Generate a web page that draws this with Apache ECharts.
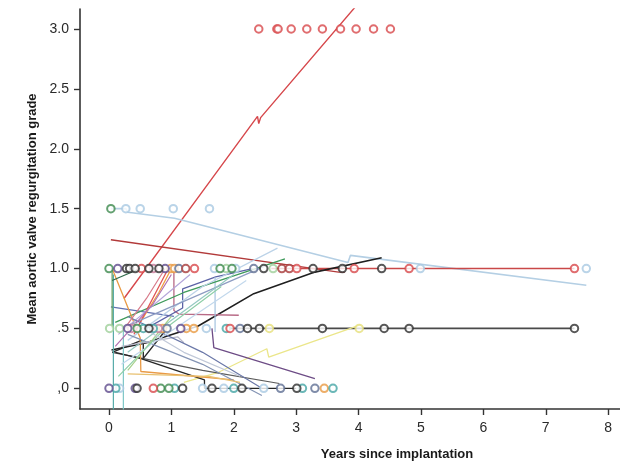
<!DOCTYPE html>
<html>
<head>
<meta charset="utf-8">
<script src="https://cdn.jsdelivr.net/npm/echarts@6/dist/echarts.min.js"></script>
<style>
html,body{margin:0;padding:0;background:#fff;}
#chart{width:620px;height:462px;}
</style>
</head>
<body>
<div id="chart"></div>
<script>
// tick values and their labels
var xTicks = [0, 1, 2, 3, 4, 5, 6, 7, 8];
var yTicks = [0, 0.5, 1, 1.5, 2, 2.5, 3];
var yTickLabels = [',0', '.5', '1.0', '1.5', '2.0', '2.5', '3.0'];

// patient trend lines [years, grade]
var redRise = [[0.24,0.75],[1.62,1.73],[2.38,2.27],[2.40,2.21],[2.43,2.26],[3.94,3.18]];
var blueDecline = [[0.03,1.5],[0.27,1.5],[0.3,1.47],[1.05,1.42],[3.83,1.05],[3.87,1.11],[7.65,0.86]];
var darkRedDecline = [[0.03,1.24],[3.68,0.97],[3.78,0.97]];
var redFlat = [[2.6,1.0],[7.46,1.0]];
var blackFlat = [[1.94,0.5],[7.46,0.5]];
var blackCurve = [[0.04,0.32],[0.6,0.38],[1.43,0.52],[2.32,0.79],[3.3,0.97],[4.37,1.09]];
var yellowRise = [[1.2,0.05],[1.74,0.13],[2.53,0.33],[2.56,0.26],[4.03,0.53]];
var purpleDrop = [[1.65,0.5],[1.68,0.34],[3.30,0.08]];
var mauveStep = [[1.04,0.98],[1.04,0.65],[1.12,0.62],[2.08,0.61]];
var blueSlope = [[0.03,0.68],[1.04,0.6]];
var slateStep = [[0.6,0.5],[1.18,0.67],[1.18,0.83],[1.71,0.93],[2.3,1.0]];
var paleVertical = [[1.7,0.93],[1.7,0.47]];
var greenRise = [[0.1,0.55],[1.2,0.8],[2.82,1.08]];
var greyDecline = [[0.05,0.3],[1.5,0.15],[2.73,0.04]];
var blackStep = [[0.1,0.3],[0.5,0.25],[1.53,0.07],[1.53,0.0],[3.0,0.0]];
var blackShort = [[0.05,0.3],[0.52,0.4],[0.55,0.38],[0.55,0.25],[0.9,0.48]];
var orangeDrop = [[0.05,1.0],[0.5,0.42],[0.51,0.14],[2.0,0.07]];
var orangeRise = [[0.5,0.55],[0.8,0.8],[1.0,1.0]];
var redShort = [[0.4,0.45],[0.8,0.85],[0.95,1.0]];
var tealVertical = [[0.07,0.95],[0.07,-0.2]];
var cyanVertical = [[0.23,0.5],[0.23,-0.2]];
var greenVertical = [[0.05,1.0],[0.05,0.5]];
var paleRise = [[0.3,0.4],[1.5,0.85],[2.7,1.17]];
var slateRise = [[0.2,0.5],[2.5,1.02]];
var lavenderRise = [[0.15,0.45],[1.3,0.95]];
var tealRise = [[0.3,0.3],[2.0,0.95]];
var steelDecline = [[0.3,0.45],[1.5,0.2],[2.45,-0.06]];
var silverShort = [[0.2,0.35],[1.1,0.43],[1.2,0.38]];
var darkGreenShort = [[0.05,0.9],[0.5,1.0]];
var limeRise = [[0.3,0.15],[1.0,0.6]];
var indigoDecline = [[0.3,0.6],[1.5,0.3],[2.45,0.0]];
var goldFlat = [[0.3,0.12],[1.6,0.1],[2.1,0.05]];
var plumRise = [[0.1,0.35],[0.7,0.7],[1.0,0.95]];
var skyRise = [[0.2,0.2],[1.2,0.55],[2.2,0.9]];
var mintRise = [[0.15,0.1],[0.9,0.5],[1.8,0.85]];
var roseRise = [[0.25,0.5],[0.6,0.75],[0.9,1.0]];
var fogDecline = [[0.4,0.55],[1.2,0.3],[2.1,0.1]];

// observed grades (hollow circles)
var redPts = [[2.40,3],[2.69,3],[2.71,3],[2.92,3],[3.17,3],[3.42,3],[3.71,3],[3.96,3],[4.24,3],[4.51,3],
  [3.01,1],[3.93,1],[4.81,1],[7.46,1],[0.52,1],[1.37,1],[1.94,0.5],[0.71,0]];
var blackPts = [[0.28,1],[0.33,1],[0.42,1],[0.64,1],[0.80,1],[2.48,1],[3.27,1],[3.74,1],[4.37,1],
  [0.64,0.5],[2.22,0.5],[2.41,0.5],[3.42,0.5],[4.41,0.5],[4.81,0.5],[7.46,0.5],
  [0.45,0],[1.18,0],[1.65,0],[2.13,0],[3.01,0]];
var paleBluePts = [[0.27,1.5],[0.5,1.5],[1.03,1.5],[1.61,1.5],[7.65,1],[4.99,1],[1.69,1],[2.03,1],
  [1.56,0.5],[0.17,0],[1.5,0],[1.84,0],[2.48,0]];
var greenPts = [[0.03,1.5],[0,1],[1.78,1],[1.97,1],[0.45,0.5],[0.83,0],[0.96,0]];
var tealPts = [[0.11,0],[1.05,0],[2.0,0],[3.1,0],[3.59,0],[0.55,0.5],[0.71,0.5],[1.88,0.5]];
var purplePts = [[0,0],[0.42,0],[0.9,1],[0.3,0.5],[1.15,0.5],[0.14,1]];
var orangePts = [[0.99,1],[1.05,1],[0.86,0.5],[1.24,0.5],[1.36,0.5],[3.45,0]];
var yellowPts = [[2.57,0.5],[4.01,0.5]];
var slatePts = [[2.75,0],[3.30,0],[2.32,1],[1.12,1],[2.10,0.5],[0.93,0.5]];
var pinkPts = [[0.71,1],[0.36,0.5],[0.79,0.5]];
var lightGreenPts = [[1.88,1],[2.63,1],[0.17,0.5],[0.01,0.5]];
var darkRedPts = [[1.23,1],[2.77,1],[2.89,1]];

var lineDefs = [
  [redRise, '#d6474b', 1.4], [blueDecline, '#b4cfe4', 1.6], [darkRedDecline, '#b23a3a', 1.4],
  [redFlat, '#c94848', 1.6], [blackFlat, '#4a4a4a', 1.6], [blackCurve, '#1f1f1f', 1.6],
  [yellowRise, '#ebe68a', 1.3], [purpleDrop, '#6d4c86', 1.3], [mauveStep, '#b86a86', 1.3],
  [blueSlope, '#6070b0', 1.2], [slateStep, '#5c63a6', 1.3], [paleVertical, '#a4c2de', 1.2],
  [greenRise, '#3e9a5a', 1.3], [greyDecline, '#5a5a5a', 1.2], [blackStep, '#262626', 1.3],
  [blackShort, '#2a2a2a', 1.4], [orangeDrop, '#e99a45', 1.3], [orangeRise, '#f0a043', 1.3],
  [redShort, '#e05555', 1.3], [tealVertical, '#55aaa8', 1.2], [cyanVertical, '#7cc6c6', 1.2],
  [greenVertical, '#5e9c5e', 1.2], [paleRise, '#bcd3e8', 1.3], [slateRise, '#8d9cc2', 1.2],
  [lavenderRise, '#b3a4d9', 1.2], [tealRise, '#94c9c1', 1.2], [steelDecline, '#8494b4', 1.2],
  [silverShort, '#b8b8c8', 1.2], [darkGreenShort, '#2f6a4a', 1.3], [limeRise, '#a6d08a', 1.2],
  [indigoDecline, '#6b78a8', 1.2], [goldFlat, '#e8c070', 1.2], [plumRise, '#b070b0', 1.2],
  [skyRise, '#c2d8ec', 1.2], [mintRise, '#8fcfa8', 1.2], [roseRise, '#d77a8a', 1.2],
  [fogDecline, '#c0c8d8', 1.2]
];
var pointDefs = [
  [paleBluePts, '#a9c9e2'], [lightGreenPts, '#9fd09a'], [yellowPts, '#e6e07a'], [orangePts, '#e89a42'],
  [pinkPts, '#c77a9a'], [tealPts, '#45a5a5'], [greenPts, '#3d8a4e'], [purplePts, '#5e4a8c'],
  [slatePts, '#5f6f94'], [darkRedPts, '#a83a3a'], [redPts, '#d8484b'], [blackPts, '#2e2e2e']
];

var series = [];
lineDefs.forEach(function (d) {
  series.push({
    type: 'line', data: d[0], symbol: 'none', silent: true, z: 2,
    lineStyle: { color: d[1], width: d[2] }
  });
});
pointDefs.forEach(function (d) {
  series.push({
    type: 'scatter', data: d[0], symbol: 'emptyCircle', symbolSize: 7.5, z: 3,
    itemStyle: { color: d[1], borderColor: d[1], borderWidth: 1.6 }
  });
});

var chart = echarts.init(document.getElementById('chart'), null, { renderer: 'canvas' });
chart.setOption({
  animation: false,
  backgroundColor: '#fff',
  textStyle: { fontFamily: 'Liberation Sans, Arial, sans-serif' },
  grid: { left: 80, right: 0, top: 9, bottom: 53, containLabel: false, outerBoundsMode: 'none' },
  xAxis: {
    type: 'value', min: -0.465, max: 8.19,
    name: 'Years since implantation', nameLocation: 'middle', nameGap: 39,
    nameTextStyle: { fontSize: 13, fontWeight: 'bold', color: '#1a1a1a', padding: [0, 0, 0, 94] },
    axisLine: { onZero: false, lineStyle: { color: '#333', width: 1.6 } },
    axisTick: { customValues: xTicks, length: 6, lineStyle: { color: '#333', width: 1.4 } },
    axisLabel: { customValues: xTicks, fontSize: 14, color: '#2a2a2a', margin: 12 },
    splitLine: { show: false }
  },
  yAxis: {
    type: 'value', min: -0.173, max: 3.167,
    name: 'Mean aortic valve regurgitation grade', nameLocation: 'middle', nameGap: 39,
    nameTextStyle: { fontSize: 13, fontWeight: 'bold', color: '#1a1a1a' },
    axisLine: { show: true, onZero: false, lineStyle: { color: '#333', width: 1.6 } },
    axisTick: { show: true, customValues: yTicks, length: 6, lineStyle: { color: '#333', width: 1.4 } },
    axisLabel: {
      customValues: yTicks, fontSize: 14, color: '#2a2a2a', margin: 11,
      formatter: function (v) { return yTickLabels[yTicks.indexOf(v)]; }
    },
    splitLine: { show: false }
  },
  series: series
});
</script>
</body>
</html>
